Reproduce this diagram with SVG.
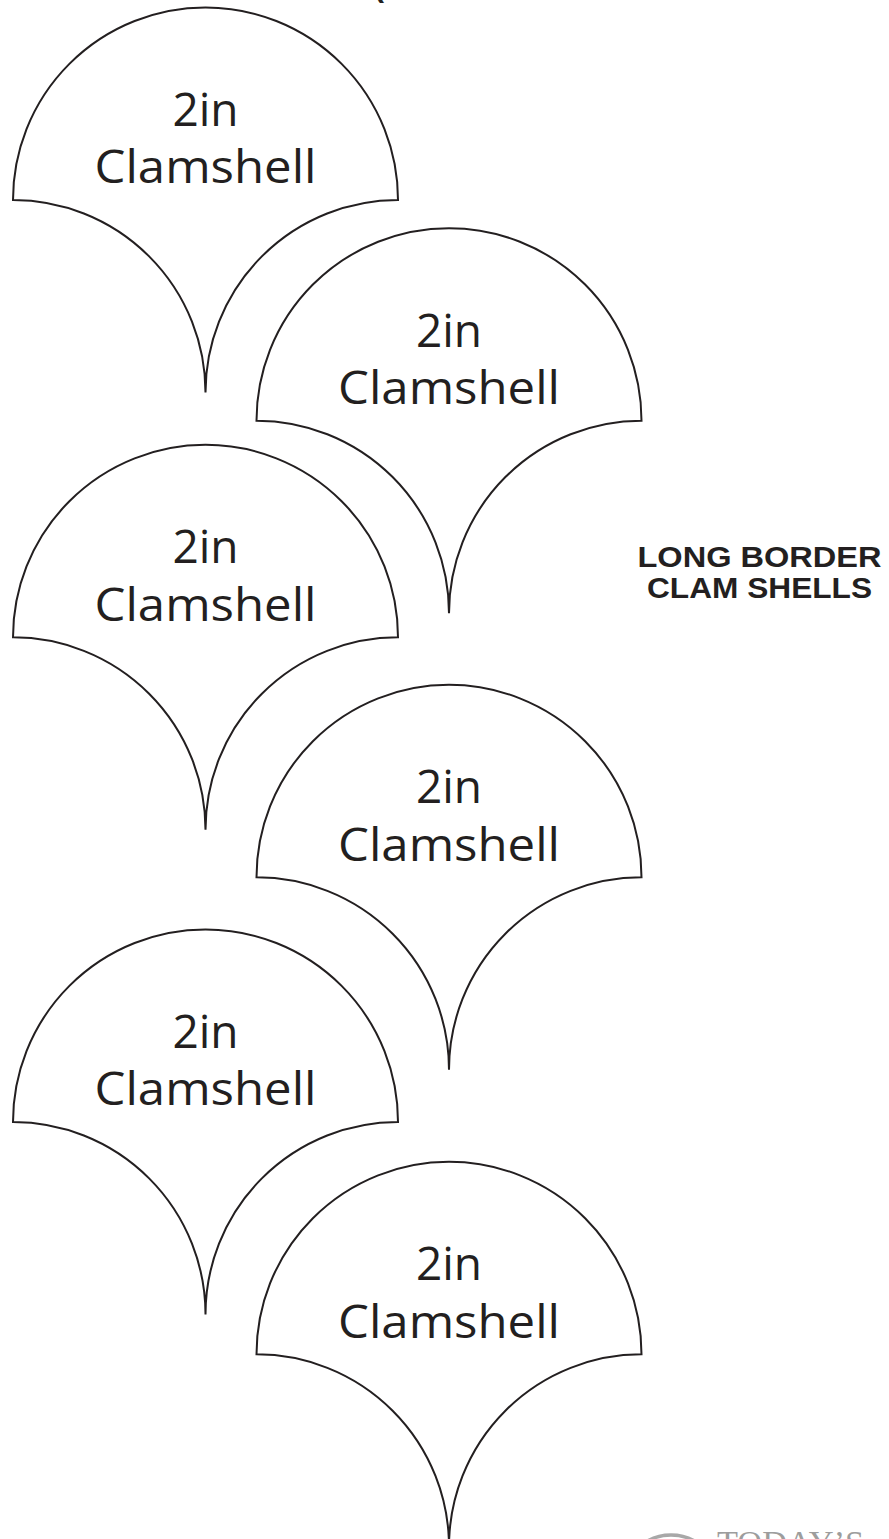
<svg xmlns="http://www.w3.org/2000/svg" width="889" height="1539" viewBox="0 0 889 1539">
<style>
.shell{fill:#ffffff;stroke:#231f20;stroke-width:2;stroke-linejoin:miter}
.lbl{font-family:"Open Sans","Noto Sans","Liberation Sans",sans-serif;font-size:46px;fill:#231f20;text-anchor:middle}
.title{font-family:"Liberation Sans","Noto Sans",sans-serif;font-weight:bold;font-size:29px;fill:#231f20;text-anchor:middle}
.logo{font-family:"Liberation Serif","DejaVu Serif",serif;font-size:33px;fill:#9d9d9d}
</style>
<rect x="0" y="0" width="889" height="1539" fill="#ffffff"/>
<text class="title" x="379" y="-3" style="font-size:30px">(</text>
<g id="shell1">
<path class="shell" d="M13,200 A192.5,192.5 0 0 1 398,200 A192.5,192.5 0 0 0 205.5,392.5 A192.5,192.5 0 0 0 13,200 Z"/>
<text class="lbl" x="205.5" y="126">2in</text>
<text class="lbl" x="205.5" y="183.3" textLength="222" lengthAdjust="spacingAndGlyphs">Clamshell</text>
</g>
<g id="shell2">
<path class="shell" d="M256.5,420.7 A192.5,192.5 0 0 1 641.5,420.7 A192.5,192.5 0 0 0 449,613.2 A192.5,192.5 0 0 0 256.5,420.7 Z"/>
<text class="lbl" x="449" y="346.7">2in</text>
<text class="lbl" x="449" y="404" textLength="222" lengthAdjust="spacingAndGlyphs">Clamshell</text>
</g>
<g id="shell3">
<path class="shell" d="M13,637.3 A192.5,192.5 0 0 1 398,637.3 A192.5,192.5 0 0 0 205.5,829.8 A192.5,192.5 0 0 0 13,637.3 Z"/>
<text class="lbl" x="205.5" y="563.3">2in</text>
<text class="lbl" x="205.5" y="620.6" textLength="222" lengthAdjust="spacingAndGlyphs">Clamshell</text>
</g>
<g id="shell4">
<path class="shell" d="M256.5,877.3 A192.5,192.5 0 0 1 641.5,877.3 A192.5,192.5 0 0 0 449,1069.8 A192.5,192.5 0 0 0 256.5,877.3 Z"/>
<text class="lbl" x="449" y="803.3">2in</text>
<text class="lbl" x="449" y="860.6" textLength="222" lengthAdjust="spacingAndGlyphs">Clamshell</text>
</g>
<g id="shell5">
<path class="shell" d="M13,1122 A192.5,192.5 0 0 1 398,1122 A192.5,192.5 0 0 0 205.5,1314.5 A192.5,192.5 0 0 0 13,1122 Z"/>
<text class="lbl" x="205.5" y="1048">2in</text>
<text class="lbl" x="205.5" y="1105.3" textLength="222" lengthAdjust="spacingAndGlyphs">Clamshell</text>
</g>
<g id="shell6">
<path class="shell" d="M256.5,1354.3 A192.5,192.5 0 0 1 641.5,1354.3 A192.5,192.5 0 0 0 449,1546.8 A192.5,192.5 0 0 0 256.5,1354.3 Z"/>
<text class="lbl" x="449" y="1280.3">2in</text>
<text class="lbl" x="449" y="1337.6" textLength="222" lengthAdjust="spacingAndGlyphs">Clamshell</text>
</g>
<g id="title">
<text class="title" x="759.5" y="566.5" textLength="244" lengthAdjust="spacingAndGlyphs">LONG BORDER</text>
<text class="title" x="759.5" y="597.5" textLength="225" lengthAdjust="spacingAndGlyphs">CLAM SHELLS</text>
</g>
<g id="logo">
<circle cx="671" cy="1583" r="48" fill="none" stroke="#a8a8a8" stroke-width="3.5"/>
<text class="logo" x="717" y="1554" textLength="147" lengthAdjust="spacingAndGlyphs">TODAY’S</text>
</g>
</svg>
